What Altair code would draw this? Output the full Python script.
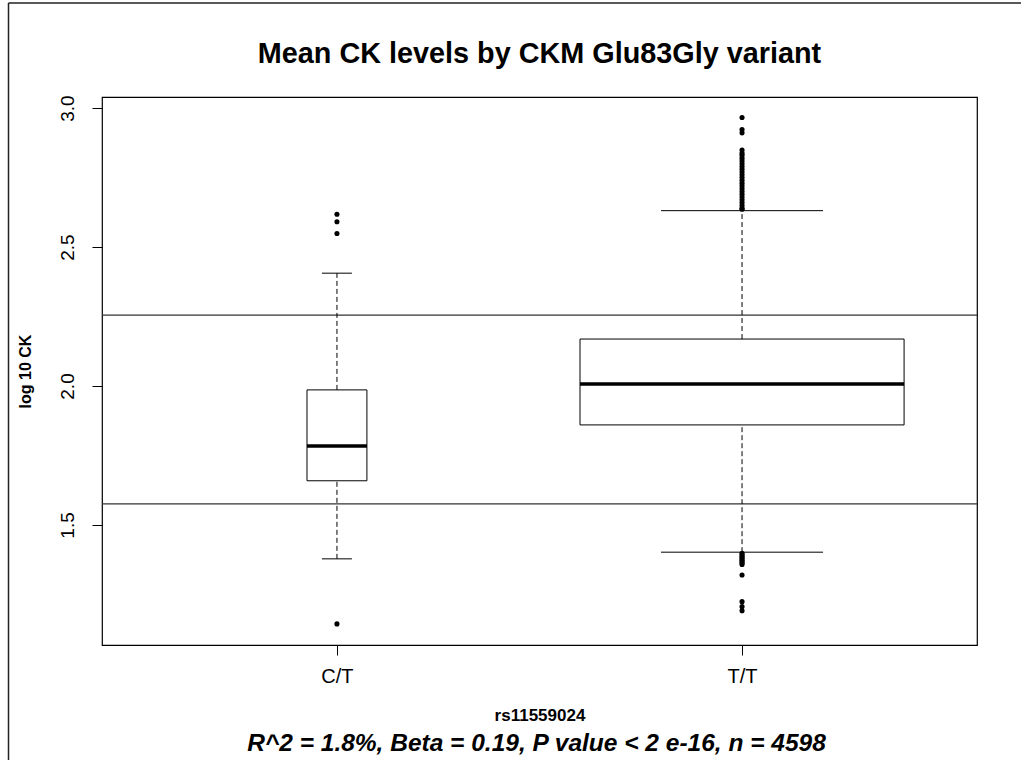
import altair as alt
import pandas as pd

# ---- data ----
groups = ["C/T", "T/T"]
positions = [1, 2]
group_n = [152, 4446]
q1 = [1.659, 1.860]
median = [1.784, 2.007]
q3 = [1.986, 2.169]
whisker_lo = [1.378, 1.402]
whisker_hi = [2.406, 2.631]

outliers_ct = [2.618, 2.591, 2.549, 1.144]
outliers_tt = [2.966, 2.923, 2.911, 2.849, 2.838, 2.83, 2.82, 2.81, 2.80, 2.79,
               2.78, 2.77, 2.76, 2.75, 2.74, 2.73, 2.72, 2.71, 2.70, 2.69,
               2.68, 2.67, 2.66, 2.65, 2.64, 2.636,
               1.398, 1.393, 1.388, 1.383, 1.378, 1.373, 1.368, 1.363, 1.358,
               1.320, 1.224, 1.206, 1.191]

ref_lines = [2.255, 1.576]

title_text = "Mean CK levels by CKM Glu83Gly variant"
x_title = "rs11559024"
y_title = "log 10 CK"
stats_text = "R^2 = 1.8%, Beta = 0.19, P value < 2 e-16, n = 4598"
y_ticks = [1.5, 2.0, 2.5, 3.0]
x_domain = [0.42, 2.58]
y_domain = [1.068, 3.04]

FONT = "Liberation Sans"
W, H = 875, 548

# ---- tables ----
max_n = max(group_n)
rows = []
for g, p, n, a, m, b, lo, hi in zip(groups, positions, group_n, q1, median, q3, whisker_lo, whisker_hi):
    half = 0.4 * (n / max_n) ** 0.5
    rows.append(dict(group=g, pos=p, q1=a, med=m, q3=b, lo=lo, hi=hi,
                     bx0=p - half, bx1=p + half, cx0=p - half / 2, cx1=p + half / 2))
box_df = pd.DataFrame(rows)

out_rows = [dict(pos=positions[0], v=v) for v in outliers_ct] + \
           [dict(pos=positions[1], v=v) for v in outliers_tt]
out_df = pd.DataFrame(out_rows)
ref_df = pd.DataFrame({"v": ref_lines})

xs = alt.Scale(domain=x_domain, nice=False, zero=False)
ys = alt.Scale(domain=y_domain, nice=False, zero=False)

label_expr = " : ".join(
    [f"datum.value == {p} ? '{g}'" for p, g in zip(positions, groups)]) + " : ''"

x_axis = alt.Axis(values=positions, labelExpr=label_expr, title=x_title,
                  grid=False, domain=False, tickSize=10, tickColor="black",
                  labelFontSize=20, labelFont=FONT, labelColor="black",
                  labelPadding=11, labelAngle=0,
                  titleFont=FONT, titleFontSize=17, titleFontWeight="bold",
                  titleColor="black", titlePadding=21)
y_axis = alt.Axis(values=y_ticks, format=".1f", title=y_title,
                  grid=False, domain=False, tickSize=10, tickColor="black",
                  labelFontSize=19, labelFont=FONT, labelColor="black",
                  labelAngle=270, labelAlign="center", labelBaseline="bottom",
                  labelPadding=15,
                  titleFont=FONT, titleFontSize=16, titleFontWeight="bold",
                  titleColor="black", titlePadding=25)

base = alt.Chart(box_df)

hlines = alt.Chart(ref_df).mark_rule(color="#333", strokeWidth=1.2).encode(
    y=alt.Y("v:Q", scale=ys, axis=y_axis),
    x=alt.value(0), x2=alt.value(W))

whisk_up = base.mark_rule(color="black", strokeWidth=1, strokeDash=[5, 3]).encode(
    x=alt.X("pos:Q", scale=xs, axis=x_axis), y=alt.Y("q3:Q", scale=ys), y2="hi:Q")
whisk_dn = base.mark_rule(color="black", strokeWidth=1, strokeDash=[5, 3]).encode(
    x=alt.X("pos:Q", scale=xs), y=alt.Y("lo:Q", scale=ys), y2="q1:Q")

boxes = base.mark_rect(fill="white", stroke="black", strokeWidth=1).encode(
    x=alt.X("bx0:Q", scale=xs), x2="bx1:Q",
    y=alt.Y("q1:Q", scale=ys), y2="q3:Q")

medians = base.mark_rule(color="black", strokeWidth=3.5).encode(
    x=alt.X("bx0:Q", scale=xs), x2="bx1:Q", y=alt.Y("med:Q", scale=ys))

cap_hi = base.mark_rule(color="black", strokeWidth=1).encode(
    x=alt.X("cx0:Q", scale=xs), x2="cx1:Q", y=alt.Y("hi:Q", scale=ys))
cap_lo = base.mark_rule(color="black", strokeWidth=1).encode(
    x=alt.X("cx0:Q", scale=xs), x2="cx1:Q", y=alt.Y("lo:Q", scale=ys))

points = alt.Chart(out_df).mark_circle(color="black", opacity=1, size=26).encode(
    x=alt.X("pos:Q", scale=xs), y=alt.Y("v:Q", scale=ys))

stats = alt.Chart(pd.DataFrame({"t": [stats_text]})).mark_text(
    font=FONT, fontSize=24.5, fontWeight="bold", fontStyle="italic",
    color="black", align="center", baseline="alphabetic").encode(
    text="t:N", x=alt.value(W / 2 - 3), y=alt.value(H + 106))

title = alt.Chart(pd.DataFrame({"t": [title_text]})).mark_text(
    font=FONT, fontSize=28.8, fontWeight="bold",
    color="black", align="center", baseline="alphabetic").encode(
    text="t:N", x=alt.value(W / 2), y=alt.value(-34))

frame_left = alt.Chart(pd.DataFrame({"a": [0]})).mark_rule(
    color="#222", strokeWidth=1.5).encode(
    x=alt.value(-93.5), y=alt.value(-94), y2=alt.value(H + 115))
frame_top = alt.Chart(pd.DataFrame({"a": [0]})).mark_rule(
    color="#222", strokeWidth=1.5).encode(
    x=alt.value(-93.5), x2=alt.value(W + 44), y=alt.value(-94))

chart = alt.layer(hlines, whisk_up, whisk_dn, boxes, medians, cap_hi, cap_lo,
                  points, stats, title, frame_left, frame_top).properties(
    width=W, height=H,
    background="white",
    autosize=alt.AutoSizeParams(type="none"),
    padding={"left": 102, "top": 97, "right": 44, "bottom": 115},
).configure_view(stroke="black", strokeWidth=1.2)

chart.save("out.html", embed_options={"renderer": "svg", "actions": False})
